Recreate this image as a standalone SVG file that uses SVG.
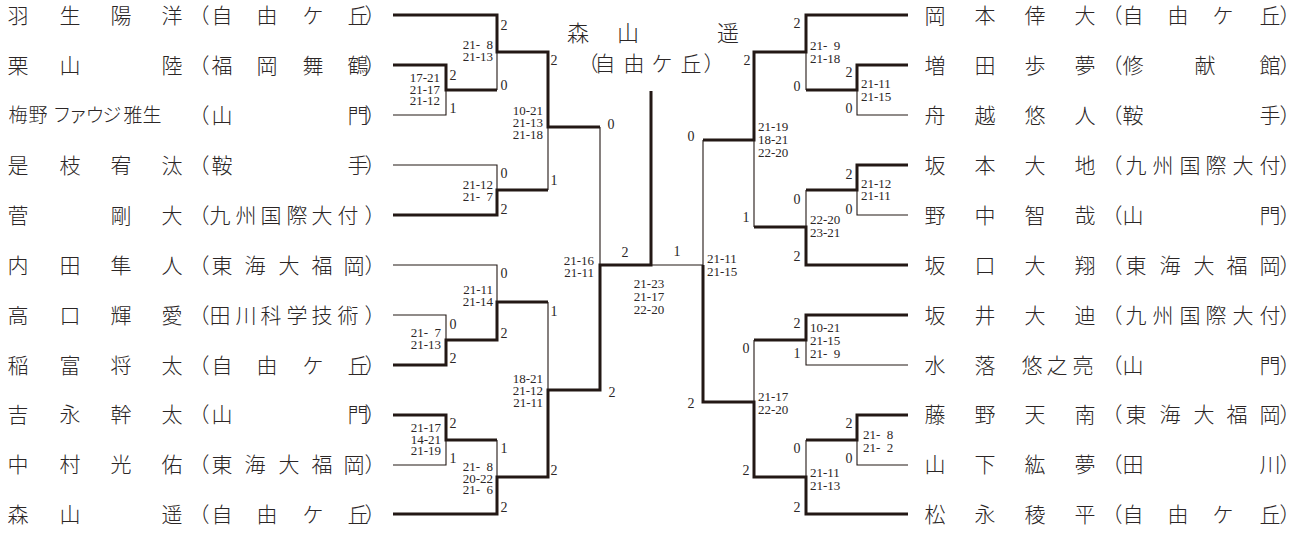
<svg xmlns="http://www.w3.org/2000/svg" width="1305" height="533" viewBox="0 0 1305 533">
<style>
.nm{font-family:"Noto Sans CJK JP","Noto Sans CJK SC",sans-serif;font-size:21px;fill:#2b2626;text-anchor:middle;font-weight:300}
.tt{font-family:"Noto Sans CJK JP","Noto Sans CJK SC",sans-serif;font-size:21px;fill:#2b2626;text-anchor:middle;font-weight:300}
.s{font-family:"Liberation Serif",serif;font-size:14px;fill:#2b2626;text-anchor:middle}
.gl{font-family:"Liberation Serif",serif;font-size:13px;fill:#2b2626;text-anchor:end}
.gr{font-family:"Liberation Serif",serif;font-size:13px;fill:#2b2626;text-anchor:start}
.gc{font-family:"Liberation Serif",serif;font-size:13px;fill:#2b2626;text-anchor:middle}
.thick{fill:none;stroke:#231815;stroke-width:3;stroke-linejoin:miter}
.thin{fill:none;stroke:#231815;stroke-width:1.1}
</style>
<rect width="1305" height="533" fill="#fff"/>

<g id="connectors">
  <path class="thin" d="M497 52V90M446 90V115H393M548 127V190M393 165H497V190M600 127V265M393 265H497V302M393 315H446V340M548 302V390M393 465H446V440M497 440V477M651 265H703"/>
  <path class="thin" d="M806 52V90M857 90V115H908M857 190V215H908M806 190V227M754 140V227M703 140V265M806 340V365H908M754 340V402M857 440V465H908M806 440V477"/>
  <path class="thick" d="M393 15H497V52H548V127H600"/>
  <path class="thick" d="M393 65H446V90H497"/>
  <path class="thick" d="M393 215H497V190H548"/>
  <path class="thick" d="M393 365H446V340H497V302H548"/>
  <path class="thick" d="M393 415H446V440H497"/>
  <path class="thick" d="M393 514H497V477H548V390H600V265H651V91"/>
  <path class="thick" d="M908 15H806V52H754V140H703"/>
  <path class="thick" d="M908 65H857V90H806"/>
  <path class="thick" d="M908 165H857V190H806"/>
  <path class="thick" d="M908 265H806V227H754"/>
  <path class="thick" d="M908 315H806V340H754"/>
  <path class="thick" d="M908 415H857V440H806"/>
  <path class="thick" d="M908 514H806V477H754V402H703V265"/>
</g>

<g id="champion">
  <text class="tt" x="578 628 728" y="41" style="font-size:22px">森山遥</text>
  <text class="tt" x="588 605 634 662 691 714" y="71">（自由ケ丘）</text>
</g>

<g id="L1"><text class="nm" x="18 70 121 172" y="22.5">羽生陽洋</text><text class="nm" x="199 222 267 313 358 375" y="22.5">（自由ケ丘）</text></g>
<g id="L2"><text class="nm" x="18 70 172" y="72.5">栗山陸</text><text class="nm" x="199 222 267 313 358 375" y="72.5">（福岡舞鶴）</text></g>
<g id="L3"><text class="nm" x="18 38 62 78 95 112 133 152" y="122" style="font-size:19px">梅野ファウジ雅生</text><text class="nm" x="199 222 358 375" y="122.5">（山門）</text></g>
<g id="L4"><text class="nm" x="18 70 121 172" y="172.5">是枝宥汰</text><text class="nm" x="199 222 358 375" y="172.5">（鞍手）</text></g>
<g id="L5"><text class="nm" x="18 121 172" y="222.5">菅剛大</text><text class="nm" x="199 220 246 271 297 322 348 375" y="222.5">（九州国際大付）</text></g>
<g id="L6"><text class="nm" x="18 70 121 172" y="272.5">内田隼人</text><text class="nm" x="199 222 255 289 322 354 375" y="272.5">（東海大福岡）</text></g>
<g id="L7"><text class="nm" x="18 70 121 172" y="322.5">高口輝愛</text><text class="nm" x="199 220 246 271 297 322 348 375" y="322.5">（田川科学技術）</text></g>
<g id="L8"><text class="nm" x="18 70 121 172" y="372.5">稲富将太</text><text class="nm" x="199 222 267 313 358 375" y="372.5">（自由ケ丘）</text></g>
<g id="L9"><text class="nm" x="18 70 121 172" y="422">吉永幹太</text><text class="nm" x="199 222 358 375" y="422">（山門）</text></g>
<g id="L10"><text class="nm" x="18 70 121 172" y="472">中村光佑</text><text class="nm" x="199 222 255 289 322 354 375" y="472">（東海大福岡）</text></g>
<g id="L11"><text class="nm" x="18 70 172" y="521.5">森山遥</text><text class="nm" x="199 222 267 313 358 375" y="521.5">（自由ケ丘）</text></g>

<g id="R1"><text class="nm" x="935 985 1035 1085" y="22.5">岡本倖大</text><text class="nm" x="1112 1133 1178 1223 1270 1290" y="22.5">（自由ケ丘）</text></g>
<g id="R2"><text class="nm" x="935 985 1035 1085" y="72.5">増田歩夢</text><text class="nm" x="1112 1133 1205 1270 1290" y="72.5">（修献館）</text></g>
<g id="R3"><text class="nm" x="935 985 1035 1085" y="122.5">舟越悠人</text><text class="nm" x="1112 1133 1270 1290" y="122.5">（鞍手）</text></g>
<g id="R4"><text class="nm" x="935 985 1035 1085" y="172.5">坂本大地</text><text class="nm" x="1112 1136 1163 1190 1216 1243 1270 1290" y="172.5">（九州国際大付）</text></g>
<g id="R5"><text class="nm" x="935 985 1035 1085" y="222.5">野中智哉</text><text class="nm" x="1112 1133 1270 1290" y="222.5">（山門）</text></g>
<g id="R6"><text class="nm" x="935 985 1035 1085" y="272.5">坂口大翔</text><text class="nm" x="1112 1136 1170 1204 1237 1270 1290" y="272.5">（東海大福岡）</text></g>
<g id="R7"><text class="nm" x="935 985 1035 1085" y="322.5">坂井大迪</text><text class="nm" x="1112 1136 1163 1190 1216 1243 1270 1290" y="322.5">（九州国際大付）</text></g>
<g id="R8"><text class="nm" x="935 985 1032 1057 1083" y="372.5">水落悠之亮</text><text class="nm" x="1112 1133 1270 1290" y="372.5">（山門）</text></g>
<g id="R9"><text class="nm" x="935 985 1035 1085" y="422">藤野天南</text><text class="nm" x="1112 1136 1170 1204 1237 1270 1290" y="422">（東海大福岡）</text></g>
<g id="R10"><text class="nm" x="935 985 1035 1085" y="472">山下紘夢</text><text class="nm" x="1112 1133 1270 1290" y="472">（田川）</text></g>
<g id="R11"><text class="nm" x="935 985 1035 1085" y="521.5">松永稜平</text><text class="nm" x="1112 1133 1178 1223 1270 1290" y="521.5">（自由ケ丘）</text></g>

<g id="scores">
  <text class="s" x="504" y="30">2</text>
  <text class="s" x="554" y="65">2</text>
  <text class="s" x="504" y="90">0</text>
  <text class="s" x="453" y="80">2</text>
  <text class="s" x="453" y="113">1</text>
  <text class="s" x="611" y="129">0</text>
  <text class="s" x="504" y="178">0</text>
  <text class="s" x="554" y="185">1</text>
  <text class="s" x="504" y="214">2</text>
  <text class="s" x="504" y="278">0</text>
  <text class="s" x="554" y="316">1</text>
  <text class="s" x="453" y="329">0</text>
  <text class="s" x="504" y="338">2</text>
  <text class="s" x="453" y="363">2</text>
  <text class="s" x="612" y="397">2</text>
  <text class="s" x="453" y="428">2</text>
  <text class="s" x="504" y="453">1</text>
  <text class="s" x="453" y="463">1</text>
  <text class="s" x="554" y="475">2</text>
  <text class="s" x="504" y="512">2</text>
  <text class="s" x="625" y="257">2</text>
  <text class="s" x="677" y="256">1</text>

  <text class="s" x="797" y="28">2</text>
  <text class="s" x="797" y="91">0</text>
  <text class="s" x="849" y="77">2</text>
  <text class="s" x="849" y="113">0</text>
  <text class="s" x="747" y="65">2</text>
  <text class="s" x="691" y="141">0</text>
  <text class="s" x="849" y="179">2</text>
  <text class="s" x="849" y="214">0</text>
  <text class="s" x="797" y="204">0</text>
  <text class="s" x="746" y="222">1</text>
  <text class="s" x="797" y="261">2</text>
  <text class="s" x="797" y="328">2</text>
  <text class="s" x="797" y="358">1</text>
  <text class="s" x="746" y="353">0</text>
  <text class="s" x="691" y="408">2</text>
  <text class="s" x="849" y="428">2</text>
  <text class="s" x="849" y="463">0</text>
  <text class="s" x="797" y="453">0</text>
  <text class="s" x="746" y="475">2</text>
  <text class="s" x="797" y="512">2</text>

  <text class="gl"><tspan x="493" y="49">21-&#x2002;8</tspan><tspan x="493" y="60.5">21-13</tspan></text>
  <text class="gl"><tspan x="440" y="82">17-21</tspan><tspan x="440" y="93.5">21-17</tspan><tspan x="440" y="105">21-12</tspan></text>
  <text class="gl"><tspan x="543" y="114.5">10-21</tspan><tspan x="543" y="126.5">21-13</tspan><tspan x="543" y="138.5">21-18</tspan></text>
  <text class="gl"><tspan x="493" y="188.5">21-12</tspan><tspan x="493" y="200.5">21-&#x2002;7</tspan></text>
  <text class="gl"><tspan x="493" y="294">21-11</tspan><tspan x="493" y="305.5">21-14</tspan></text>
  <text class="gl"><tspan x="441" y="337">21-&#x2002;7</tspan><tspan x="441" y="348.5">21-13</tspan></text>
  <text class="gl"><tspan x="543" y="383">18-21</tspan><tspan x="543" y="395">21-12</tspan><tspan x="543" y="407">21-11</tspan></text>
  <text class="gl"><tspan x="441" y="432">21-17</tspan><tspan x="441" y="443.5">14-21</tspan><tspan x="441" y="455">21-19</tspan></text>
  <text class="gl"><tspan x="493" y="471">21-&#x2002;8</tspan><tspan x="493" y="482.5">20-22</tspan><tspan x="493" y="494">21-&#x2002;6</tspan></text>
  <text class="gl"><tspan x="594" y="264.5">21-16</tspan><tspan x="594" y="276.5">21-11</tspan></text>
  <text class="gc"><tspan x="649" y="287.5">21-23</tspan><tspan x="649" y="300.5">21-17</tspan><tspan x="649" y="314">22-20</tspan></text>

  <text class="gr"><tspan x="810" y="49.5">21-&#x2002;9</tspan><tspan x="810" y="62.5">21-18</tspan></text>
  <text class="gr"><tspan x="861" y="87.5">21-11</tspan><tspan x="861" y="101">21-15</tspan></text>
  <text class="gr"><tspan x="758" y="130.5">21-19</tspan><tspan x="758" y="143.5">18-21</tspan><tspan x="758" y="157">22-20</tspan></text>
  <text class="gr"><tspan x="861" y="187.5">21-12</tspan><tspan x="861" y="199.5">21-11</tspan></text>
  <text class="gr"><tspan x="810" y="223.5">22-20</tspan><tspan x="810" y="237">23-21</tspan></text>
  <text class="gr"><tspan x="707" y="262.5">21-11</tspan><tspan x="707" y="276">21-15</tspan></text>
  <text class="gr"><tspan x="810" y="331.5">10-21</tspan><tspan x="810" y="344.5">21-15</tspan><tspan x="810" y="357.5">21-&#x2002;9</tspan></text>
  <text class="gr"><tspan x="758" y="400.5">21-17</tspan><tspan x="758" y="413.5">22-20</tspan></text>
  <text class="gr"><tspan x="863" y="438.5">21-&#x2002;8</tspan><tspan x="863" y="451.5">21-&#x2002;2</tspan></text>
  <text class="gr"><tspan x="810" y="476.5">21-11</tspan><tspan x="810" y="489.5">21-13</tspan></text>
</g>
</svg>
